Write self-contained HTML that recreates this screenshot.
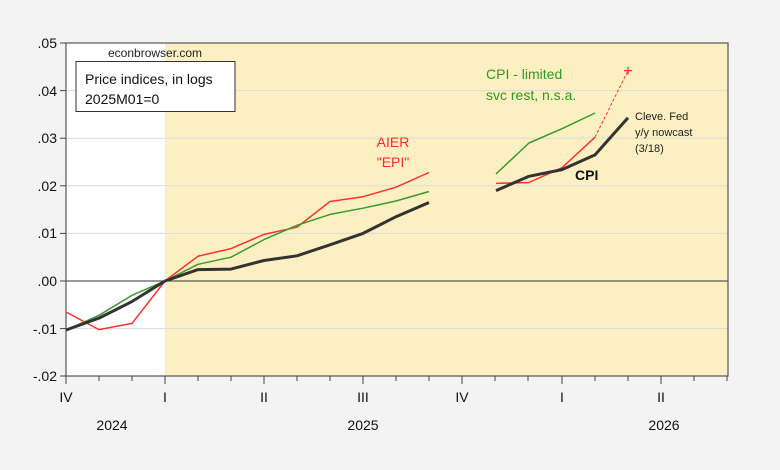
<!DOCTYPE html>
<html><head><meta charset="utf-8"><style>
body{margin:0;background:#f3f3f3}
svg{display:block;font-family:"Liberation Sans",sans-serif}
</style></head><body>
<svg width="780" height="470" viewBox="0 0 780 470" xmlns="http://www.w3.org/2000/svg">
<rect width="780" height="470" fill="#f3f3f3"/>
<rect x="66" y="43" width="662" height="333" fill="#fff"/>
<rect x="165" y="43" width="563" height="333" fill="#fcf0c2"/>
<g stroke="#dcdcdc" stroke-width="1">
<line x1="66" x2="728" y1="90.6" y2="90.6"/><line x1="66" x2="728" y1="138.2" y2="138.2"/>
<line x1="66" x2="728" y1="185.8" y2="185.8"/><line x1="66" x2="728" y1="233.4" y2="233.4"/>
<line x1="66" x2="728" y1="328.6" y2="328.6"/>
</g>
<line x1="66" x2="728" y1="281" y2="281" stroke="#333" stroke-width="1"/>
<rect x="66" y="43" width="662" height="333" fill="none" stroke="#555" stroke-width="1.2"/>
<g stroke="#444" stroke-width="1">
<line x1="60" x2="66" y1="43" y2="43"/><line x1="60" x2="66" y1="90.6" y2="90.6"/><line x1="60" x2="66" y1="138.2" y2="138.2"/><line x1="60" x2="66" y1="185.8" y2="185.8"/><line x1="60" x2="66" y1="233.4" y2="233.4"/><line x1="60" x2="66" y1="281" y2="281"/><line x1="60" x2="66" y1="328.6" y2="328.6"/><line x1="60" x2="66" y1="376" y2="376"/>
<path d="M66 376v8M99 376v5M132 376v5M165 376v8M198 376v5M231 376v5M264 376v8M297 376v5M330 376v5M363 376v8M396 376v5M429 376v5M462 376v8M495 376v5M528 376v5M562 376v8M595 376v5M628 376v5M661 376v8M694 376v5M727 376v5"/>
</g>
<g font-size="14" fill="#111" text-anchor="end">
<text x="57" y="48">.05</text><text x="57" y="96">.04</text><text x="57" y="143">.03</text><text x="57" y="191">.02</text><text x="57" y="238">.01</text><text x="57" y="286">.00</text><text x="57" y="334">-.01</text><text x="57" y="381">-.02</text>
</g>
<g font-size="14" fill="#111" text-anchor="middle">
<text x="66" y="402">IV</text><text x="165" y="402">I</text><text x="264" y="402">II</text><text x="363" y="402">III</text><text x="462" y="402">IV</text><text x="562" y="402">I</text><text x="661" y="402">II</text>
<text x="112" y="430">2024</text><text x="363" y="430">2025</text><text x="664" y="430">2026</text>
</g>
<g fill="none" stroke-linejoin="round">
<polyline stroke="#ff3030" stroke-width="1.5" points="66,312 99,329.6 132,323.4 165,281 198,256.2 231,248.6 264,234.4 297,227.2 330,201.5 363,196.7 396,187.2 429,172.5"/>
<polyline stroke="#ff3030" stroke-width="1.5" points="496,183.4 529,182.5 562,167.7 595,137.2"/>
<polyline stroke="#ff3030" stroke-width="1" stroke-dasharray="3,2" points="595,137.2 628,70.6"/>
<polyline stroke="#3a9a30" stroke-width="1.5" points="66,330 99,315.3 132,295.3 165,281 198,264.3 231,257.2 264,239.6 297,225.3 330,214.4 363,208.2 396,201 429,191.5"/>
<polyline stroke="#3a9a30" stroke-width="1.5" points="496,173.9 529,143 562,128.7 595,113"/>
<polyline stroke="#333" stroke-width="3" points="66,330 99,318.1 132,301.5 165,281 198,269.6 231,269.1 264,260.5 297,255.8 330,244.8 363,233.4 396,216.7 429,202.5"/>
<polyline stroke="#333" stroke-width="3" points="496,190.6 529,176.3 562,169.6 595,154.9 628,117.7"/>
</g>
<path d="M624 70.6h8M628 66.6v8" stroke="#ff3030" stroke-width="1.2"/>
<text x="108" y="57" font-size="12" fill="#222">econbrowser.com</text>
<rect x="76" y="61.5" width="159" height="50" fill="#fff" stroke="#333" stroke-width="1"/>
<text x="85" y="84" font-size="14" fill="#111">Price indices, in logs</text>
<text x="85" y="104" font-size="14" fill="#111">2025M01=0</text>
<text x="486" y="79" font-size="14" fill="#2e9a22">CPI - limited</text>
<text x="486" y="100" font-size="14" fill="#2e9a22">svc rest, n.s.a.</text>
<text x="393" y="147" font-size="14" fill="#ff2a2a" text-anchor="middle">AIER</text>
<text x="393" y="167" font-size="14" fill="#ff2a2a" text-anchor="middle">"EPI"</text>
<text x="575" y="180" font-size="14" font-weight="bold" fill="#111">CPI</text>
<text x="635" y="120" font-size="11" fill="#222">Cleve. Fed</text>
<text x="635" y="136" font-size="11" fill="#222">y/y nowcast</text>
<text x="635" y="152" font-size="11" fill="#222">(3/18)</text>
</svg>
</body></html>
